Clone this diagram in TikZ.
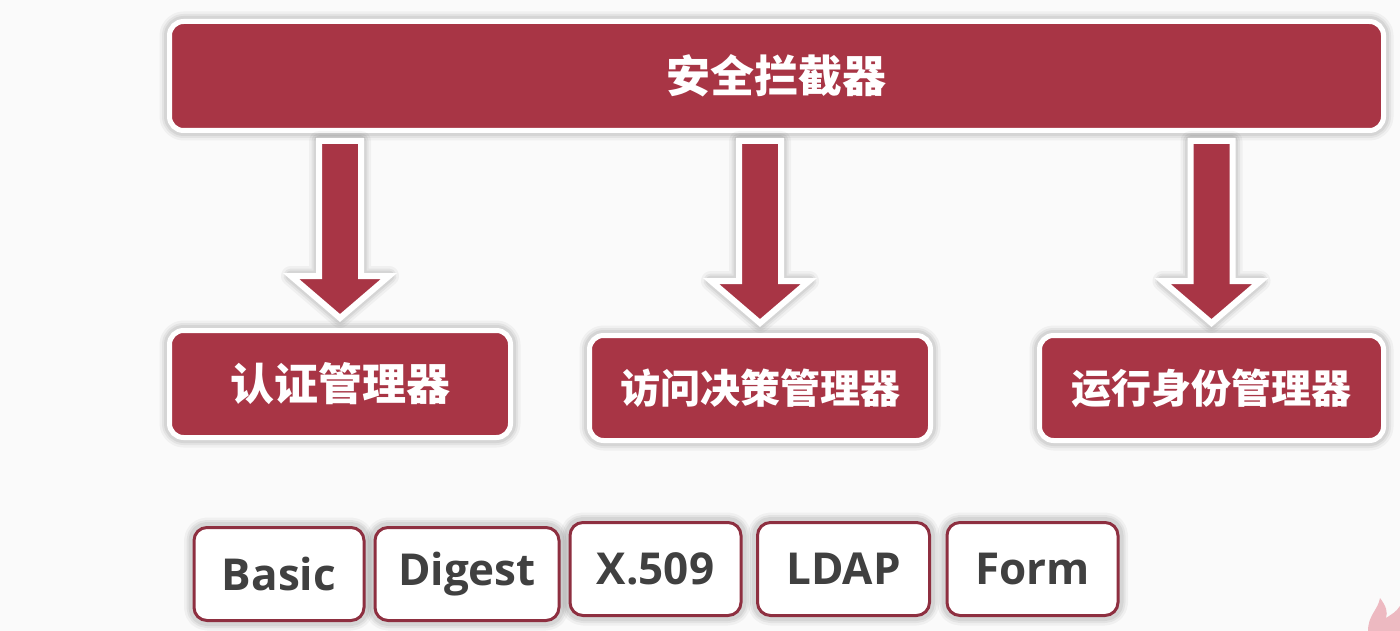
\documentclass[tikz,border=0pt]{standalone}
\usepackage{fontspec}
\setmainfont{Open Sans}
\newfontfamily\cjk{Noto Sans CJK SC}
\usetikzlibrary{calc}
\definecolor{brick}{HTML}{A83545}
\definecolor{frame}{HTML}{8E2F40}
\definecolor{txt}{HTML}{404040}
\definecolor{bgc}{HTML}{FAFAFA}
\definecolor{flamepink}{HTML}{EDB9C1}
\tikzset{
  glow/.style={
    preaction={draw=black, draw opacity=0.04, line width=20pt, line join=round},
    preaction={draw=black, draw opacity=0.05, line width=15pt, line join=round},
    preaction={draw=black, draw opacity=0.06, line width=11pt, line join=round}},
  redbox/.style={rectangle, glow, fill=brick, draw=white, line width=5pt, rounded corners=14pt,
    text=white, inner sep=0pt},
  authbox/.style={rectangle, glow, fill=white, draw=frame, line width=3pt, rounded corners=13pt,
    text=txt, inner sep=0pt, minimum height=93pt,
    font=\bfseries\fontsize{44}{48}\selectfont},
  bigarrow/.style={glow, fill=brick, draw=white, line width=6pt, line join=miter},
  cjkbig/.style={font=\cjk\bfseries\fontsize{44}{48}\selectfont},
  cjkmid/.style={font=\cjk\bfseries\fontsize{40}{44}\selectfont}
}
\begin{document}
\begin{tikzpicture}[x=1pt,y=-1pt]
\useasboundingbox (0,0) rectangle (1400,631);
\fill[bgc] (0,0) rectangle (1400,631);

\node[redbox, cjkbig, minimum width=1214pt, minimum height=109pt] (top) at (776.5,76) {安全拦截器};

\node[redbox, cjkbig, minimum width=341pt, minimum height=107pt] (b1) at (340,384) {认证管理器};
\node[redbox, cjkmid, minimum width=341pt, minimum height=105pt] (b2) at (760,388) {访问决策管理器};
\node[redbox, cjkmid, minimum width=344pt, minimum height=105pt] (b3) at (1211.5,388) {运行身份管理器};

\foreach \b in {b1,b2,b3}{
  \path[bigarrow] let \p1=(top.south -| \b.north), \p2=(\b.north) in
    (\x1-21pt,\y1-8pt) -- (\x1+21pt,\y1-8pt) -- (\x1+21pt,\y2+52pt) -- (\x1+49pt,\y2+52pt)
    -- (\x1,\y2+10pt) -- (\x1-49pt,\y2+52pt) -- (\x1-21pt,\y2+52pt) -- cycle;
}

\node[authbox, minimum width=170pt] (basic) at (279,574) {Basic};
\node[authbox, minimum width=184pt] (digest) at (467,574) {Digest};
\node[authbox, minimum width=171pt] (x509) at (655.5,569) {X.509};
\node[authbox, minimum width=172pt] (ldap) at (843.5,569) {LDAP};
\node[authbox, minimum width=171pt] (form) at (1032.5,569) {Form};

\fill[flamepink] (1368,631) .. controls (1368,615) and (1378,610) .. (1380,598)
  .. controls (1386,606) and (1388,612) .. (1386,618)
  .. controls (1392,614) and (1396,612) .. (1400,606) -- (1400,631) -- cycle;
\end{tikzpicture}
\end{document}
